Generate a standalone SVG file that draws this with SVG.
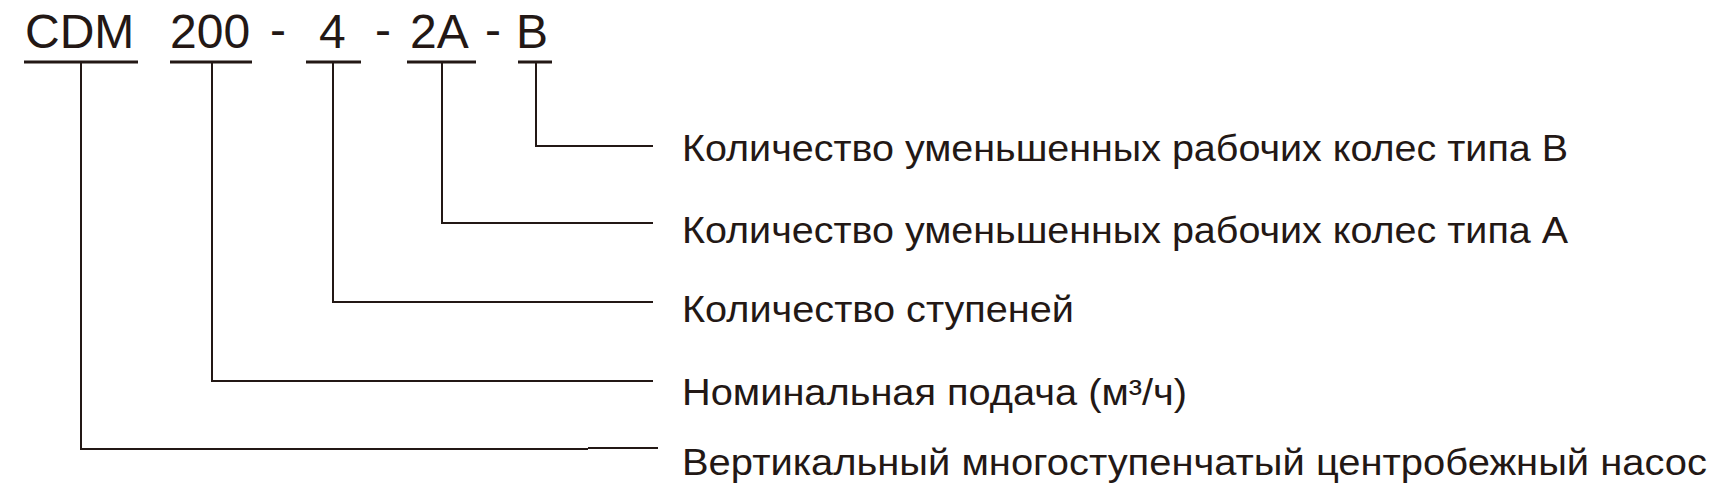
<svg xmlns="http://www.w3.org/2000/svg" width="1719" height="499" viewBox="0 0 1719 499">
<style>
.code{font-family:"Liberation Sans",Arial,sans-serif;font-size:48px;fill:#231815}
.lbl{font-family:"Liberation Sans",Arial,sans-serif;font-size:36px;fill:#231815}
.ul{stroke:#231815;stroke-width:3;fill:none}
.cn{stroke:#231815;stroke-width:2;fill:none}
</style>
<rect width="1719" height="499" fill="#ffffff"/>
<g id="code">
<text class="code" x="25" y="48">CDM</text>
<text class="code" x="170" y="48">200</text>
<text class="code" x="270" y="46">-</text>
<text class="code" x="319" y="48">4</text>
<text class="code" x="375" y="46">-</text>
<text class="code" x="410" y="48">2A</text>
<text class="code" x="485" y="46">-</text>
<text class="code" x="516" y="48">B</text>
</g>
<g id="underlines">
<line class="ul" x1="24" y1="62" x2="138" y2="62"/>
<line class="ul" x1="170" y1="62" x2="252" y2="62"/>
<line class="ul" x1="306" y1="62" x2="361" y2="62"/>
<line class="ul" x1="407" y1="62" x2="476" y2="62"/>
<line class="ul" x1="518" y1="62" x2="552" y2="62"/>
</g>
<g id="connectors">
<polyline class="cn" points="81,63 81,449 588,449"/>
<line class="cn" x1="588" y1="448" x2="658" y2="448"/>
<polyline class="cn" points="212,63 212,381 653,381"/>
<polyline class="cn" points="333,63 333,302 653,302"/>
<polyline class="cn" points="442,63 442,223 653,223"/>
<polyline class="cn" points="536,63 536,146 653,146"/>
</g>
<g id="label-b"><text class="lbl" x="682" y="161" textLength="886" lengthAdjust="spacingAndGlyphs">Количество уменьшенных рабочих колес типа B</text></g>
<g id="label-a"><text class="lbl" x="682" y="242.5" textLength="886" lengthAdjust="spacingAndGlyphs">Количество уменьшенных рабочих колес типа A</text></g>
<g id="label-stages"><text class="lbl" x="682" y="322" textLength="392" lengthAdjust="spacingAndGlyphs">Количество ступеней</text></g>
<g id="label-flow"><text class="lbl" x="682" y="405" textLength="505" lengthAdjust="spacingAndGlyphs">Номинальная подача (м³/ч)</text></g>
<g id="label-pump"><text class="lbl" x="682" y="475" textLength="1025" lengthAdjust="spacingAndGlyphs">Вертикальный многоступенчатый центробежный насос</text></g>
</svg>
